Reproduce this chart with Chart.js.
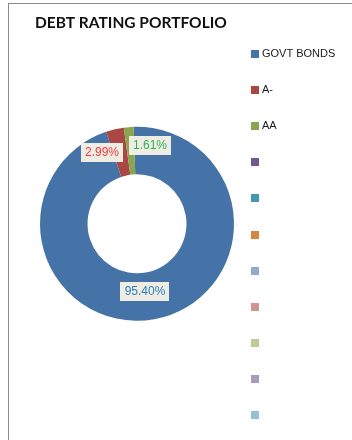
<!DOCTYPE html>
<html>
<head>
<meta charset="utf-8">
<script src="https://cdn.jsdelivr.net/npm/chart.js@4/dist/chart.umd.min.js"></script>
<style>
  html, body { margin: 0; padding: 0; background: #fff; }
  body { width: 352px; height: 440px; position: relative; overflow: hidden; }
  #frame { position: absolute; left: 8px; top: 3px; width: 400px; height: 500px;
           border-left: 1px solid #8a8a8a; border-top: 1px solid #8a8a8a; }
  #wrap { position: absolute; left: 0; top: 0; width: 352px; height: 440px; }
</style>
</head>
<body>
<div id="frame"></div>
<div id="wrap"><canvas id="chart" width="352" height="440"></canvas></div>
<script>
// values
const categories = ["GOVT BONDS", "A-", "AA", "", "", "", "", "", "", "", ""]
const shares = [95.40, 2.99, 1.61, 0, 0, 0, 0, 0, 0, 0, 0]
const sliceColors = ["#4572A7", "#AA4643", "#89A54E", "#71588F", "#4198AF", "#DB843D",
                     "#93A9CF", "#D19392", "#B9CD96", "#A99BBD", "#91C3D5"]
const labelColors = ["#2C80C3", "#EE3B3B", "#2DB35A"]
// small nudges so labels sit where the original put them
const labelNudge = [[-5, -5], [-18, 0], [19, -6]]

// Excel-style legend on the right, one entry per category
const sideLegend = {
    id: "sideLegend",
    afterDraw(chart) {
        const ctx = chart.ctx
        const ds = chart.data.datasets[0]
        ctx.save()
        ctx.font = "11px 'Liberation Sans', Arial, sans-serif"
        ctx.textBaseline = "middle"
        chart.data.labels.forEach((l, i) => {
            const y = Math.round(54 + i * 36.1)
            ctx.fillStyle = ds.backgroundColor[i]
            ctx.fillRect(251, y - 4, 8, 8)
            ctx.fillStyle = "#1a1a1a"
            ctx.fillText(l, 262, y)
        })
        ctx.restore()
    }
}

// percentage boxes on the slices
const sliceLabels = {
    id: "sliceLabels",
    afterDatasetsDraw(chart) {
        const ctx = chart.ctx
        const meta = chart.getDatasetMeta(0)
        ctx.save()
        ctx.font = "12px 'Liberation Sans', Arial, sans-serif"
        ctx.textAlign = "center"
        ctx.textBaseline = "middle"
        meta.data.forEach((arc, i) => {
            const v = shares[i]
            if (!v) return
            const p = arc.tooltipPosition()
            const x = Math.round(p.x + labelNudge[i][0])
            const y = Math.round(p.y + labelNudge[i][1])
            const txt = v.toFixed(2) + "%"
            const w = Math.round(ctx.measureText(txt).width + 8)
            ctx.fillStyle = "#EFEDE3"
            ctx.fillRect(x - Math.round(w / 2), y - 9, w, 19)
            ctx.fillStyle = labelColors[i]
            ctx.fillText(txt, x, y + 1)
        })
        ctx.restore()
    }
}

new Chart(document.getElementById("chart"), {
    type: "doughnut",
    data: {
        labels: categories,
        datasets: [{
            data: shares,
            backgroundColor: sliceColors,
            borderWidth: 0,
        }],
    },
    options: {
        responsive: false,
        animation: false,
        rotation: -2,
        radius: 97,
        cutout: "51%",
        layout: { padding: { left: 35, right: 113, top: 0, bottom: 35 } },
        plugins: {
            legend: { display: false },
            tooltip: { enabled: false },
            title: {
                display: true,
                text: "DEBT RATING PORTFOLIO",
                align: "start",
                color: "#111",
                font: { family: "Lato, 'Liberation Sans', sans-serif", size: 15.5, weight: "bold" },
                padding: { top: 14, bottom: 10 },
            },
        },
    },
    plugins: [sliceLabels, sideLegend],
})
</script>
</body>
</html>
